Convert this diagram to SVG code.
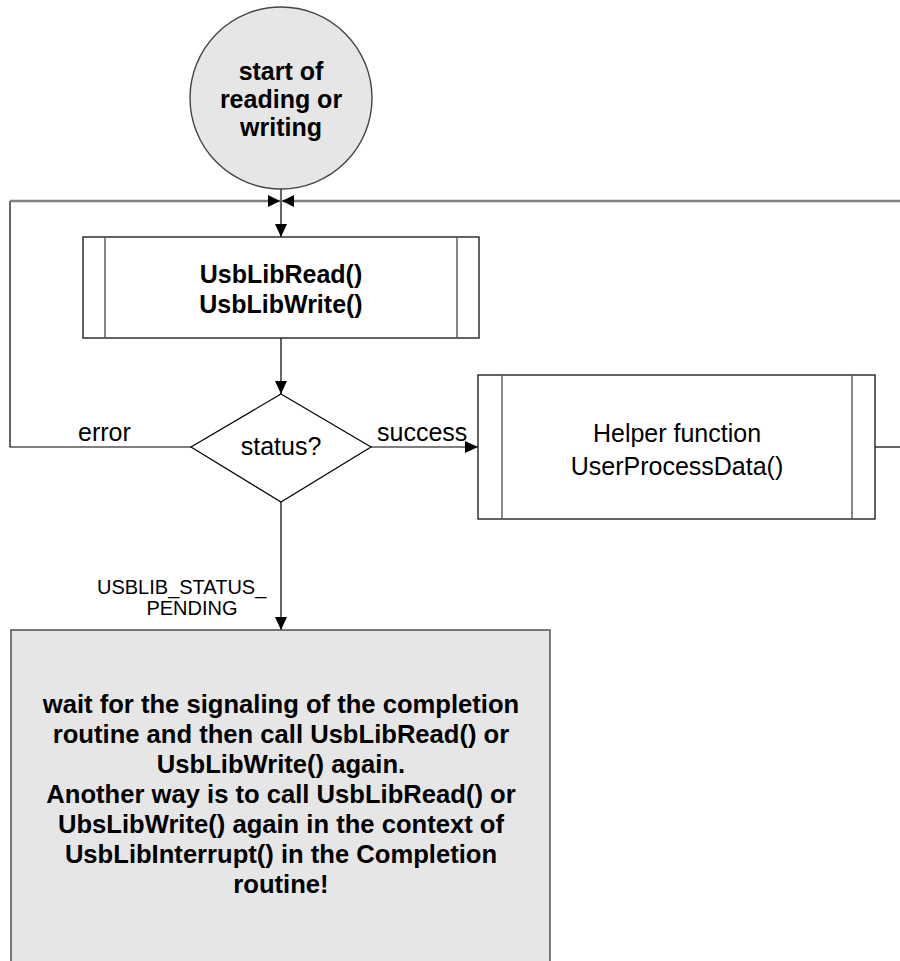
<svg xmlns="http://www.w3.org/2000/svg" width="900" height="961" viewBox="0 0 900 961">
<defs>
<style>
text{font-family:"Liberation Sans",Arial,sans-serif;fill:#000}
.n{font-size:25px}
.b{font-size:25px;font-weight:bold}
.bw{font-size:25.6px;font-weight:bold}
.lbl{font-size:20px}
.mid{text-anchor:middle}
.ln{fill:none;stroke:#000;stroke-width:1.2}
.gl{fill:none;stroke:#808080;stroke-width:2.5}
.box{fill:#fff;stroke:#222;stroke-width:1.4}
.inner{fill:none;stroke:#555;stroke-width:1.4}
.grey{fill:#e6e6e6;stroke:#444;stroke-width:1.4}
</style>
<marker id="ah" markerUnits="userSpaceOnUse" markerWidth="13" markerHeight="12" refX="13" refY="6" orient="auto">
<path d="M0,0 L13,6 L0,12 z" fill="#000"/>
</marker>
<marker id="ahs" markerUnits="userSpaceOnUse" markerWidth="12" markerHeight="12" refX="12" refY="6" orient="auto">
<path d="M0,0 L12,6 L0,12 z" fill="#000"/>
</marker>
</defs>

<g id="connectors">
<path class="ln" d="M281,189 V237" marker-end="url(#ah)"/>
<path class="ln" d="M281,338 V394" marker-end="url(#ah)"/>
<path class="ln" d="M191,447 H10 V201"/>
<path class="gl" d="M10,201 H280" marker-end="url(#ahs)"/>
<path class="gl" d="M900,201 H282" marker-end="url(#ahs)"/>
<path class="ln" d="M371,447 H478" marker-end="url(#ah)"/>
<path class="ln" d="M875,447 H900"/>
<path class="ln" d="M281,502 V630" marker-end="url(#ah)"/>
<text class="n" x="78" y="441">error</text>
<text class="n" x="377" y="441">success</text>
<text class="lbl" x="97" y="594">USBLIB_STATUS_</text>
<text class="lbl mid" x="192" y="615">PENDING</text>
</g>

<g id="start">
<circle class="grey" cx="281" cy="98" r="91" stroke-width="1"/>
<text class="b mid" x="281" y="80">start of</text>
<text class="b mid" x="281" y="108">reading or</text>
<text class="b mid" x="281" y="136">writing</text>
</g>

<g id="usblib">
<rect class="box" x="83" y="237" width="396" height="101"/>
<line class="inner" x1="105" y1="237" x2="105" y2="338"/>
<line class="inner" x1="457" y1="237" x2="457" y2="338"/>
<text class="b mid" x="281" y="283">UsbLibRead()</text>
<text class="b mid" x="281" y="313">UsbLibWrite()</text>
</g>

<g id="status">
<polygon points="281,394 371,447 281,502 191,447" fill="#fff" stroke="#000" stroke-width="1.2"/>
<text class="n mid" x="281" y="455">status?</text>
</g>

<g id="helper">
<rect class="box" x="478" y="375" width="397" height="144"/>
<line class="inner" x1="502" y1="375" x2="502" y2="519"/>
<line class="inner" x1="852" y1="375" x2="852" y2="519"/>
<text class="n mid" x="677" y="442">Helper function</text>
<text class="n mid" x="677" y="475">UserProcessData()</text>
</g>

<g id="wait">
<rect class="grey" x="11" y="630" width="539" height="345"/>
<text class="bw mid" x="281" y="713">wait for the signaling of the completion</text>
<text class="bw mid" x="281" y="743">routine and then call UsbLibRead() or</text>
<text class="bw mid" x="281" y="773">UsbLibWrite() again.</text>
<text class="bw mid" x="281" y="803">Another way is to call UsbLibRead() or</text>
<text class="bw mid" x="281" y="833">UbsLibWrite() again in the context of</text>
<text class="bw mid" x="281" y="863">UsbLibInterrupt() in the Completion</text>
<text class="bw mid" x="281" y="893">routine!</text>
</g>
</svg>
